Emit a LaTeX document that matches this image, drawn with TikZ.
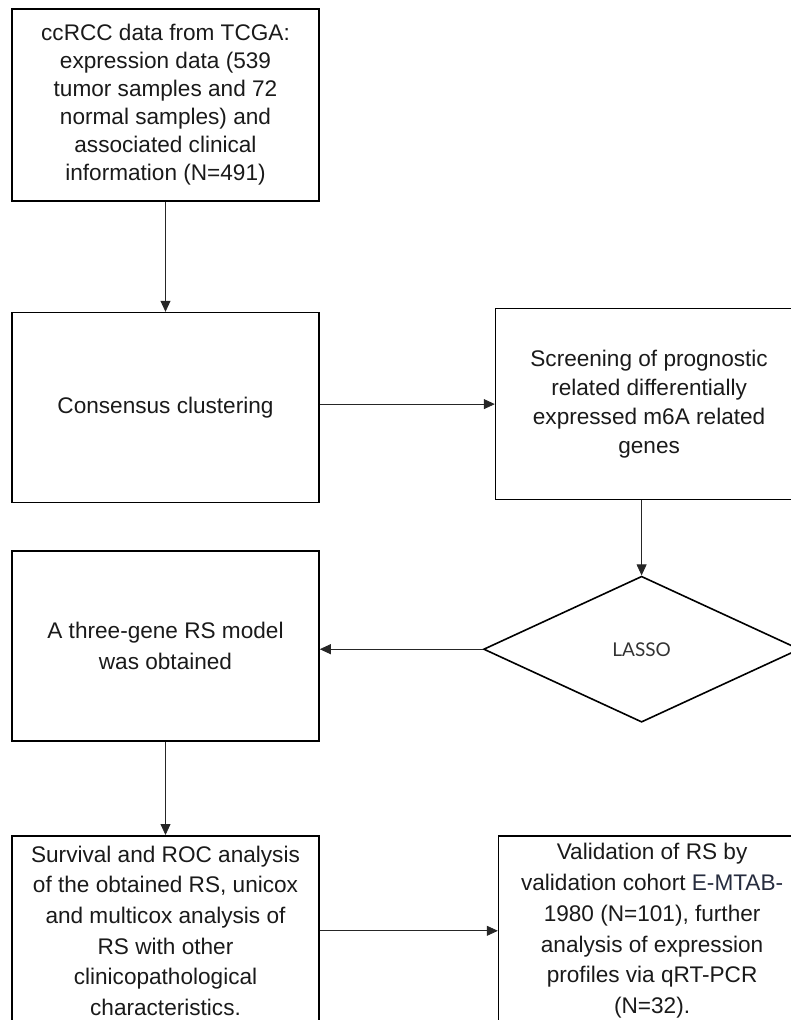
\documentclass[tikz,border=0pt]{standalone}
\usepackage{fontspec}
\setmainfont{Liberation Sans}
\newfontfamily\lassofont{Lato}
\usepackage{xcolor}
\usetikzlibrary{positioning,arrows.meta,shapes.geometric}
\definecolor{boxtext}{RGB}{26,26,26}
\definecolor{cohortblue}{RGB}{38,44,62}

\begin{document}
\begin{tikzpicture}[->, >={Triangle[width=10pt,length=11pt]}, node distance=110pt and 175pt, box/.style={draw, line width=1.6pt, minimum width=307pt, minimum height=190pt, inner sep=0pt, align=center, text=boxtext, font=\fontsize{22.6}{30.7}\selectfont}, decision/.style={diamond, draw, line width=1.6pt, minimum width=316pt, minimum height=146pt, inner sep=0pt, text=black!80, font=\lassofont\fontsize{19}{22}\selectfont}, every edge/.append style={line width=0.8pt, draw=black!85}]

\useasboundingbox (0,0) rectangle (791pt,-1020pt);
\clip (0,0) rectangle (791pt,-1020pt);

\node[box, minimum height=192pt, font=\fontsize{22.6}{28}\selectfont] (tcga) at (165.5pt,-105pt) {ccRCC data from TCGA:\\ expression data (539\\ tumor samples and 72\\ normal samples) and\\ associated clinical\\ information (N=491)};
\node[box] (cons) [below=110pt of tcga] {Consensus clustering};
\node[box, minimum height=191pt, font=\fontsize{22.6}{29.2}\selectfont] (screen) [right=175pt of cons, yshift=3.5pt] {Screening of prognostic\\ related differentially\\ expressed m6A related\\ genes};
\node[decision] (lasso) [below=75pt of screen, xshift=-7.5pt] {LASSO};
\node[box] (model) [below=47pt of cons] {A three-gene RS model\\ was obtained};
\node[box] (surv) [below=93pt of model] {Survival and ROC analysis\\ of the obtained RS, unicox\\ and multicox analysis of\\ RS with other\\ clinicopathological\\ characteristics.};
\node[box] (valid) [right=178pt of surv] {Validation of RS by\\ validation cohort \textcolor{cohortblue}{E-MTAB-}\\ 1980 (N=101), further\\ analysis of expression\\ profiles via qRT-PCR\\ (N=32).};

\path 
    (tcga) edge (cons)
    (cons.east |- screen.west) edge (screen)
    (lasso.north |- screen.south) edge (lasso)
    (lasso) edge (lasso.west -| model.east)
    (model) edge (surv)
    (surv) edge (valid);
\end{tikzpicture}
\end{document}
